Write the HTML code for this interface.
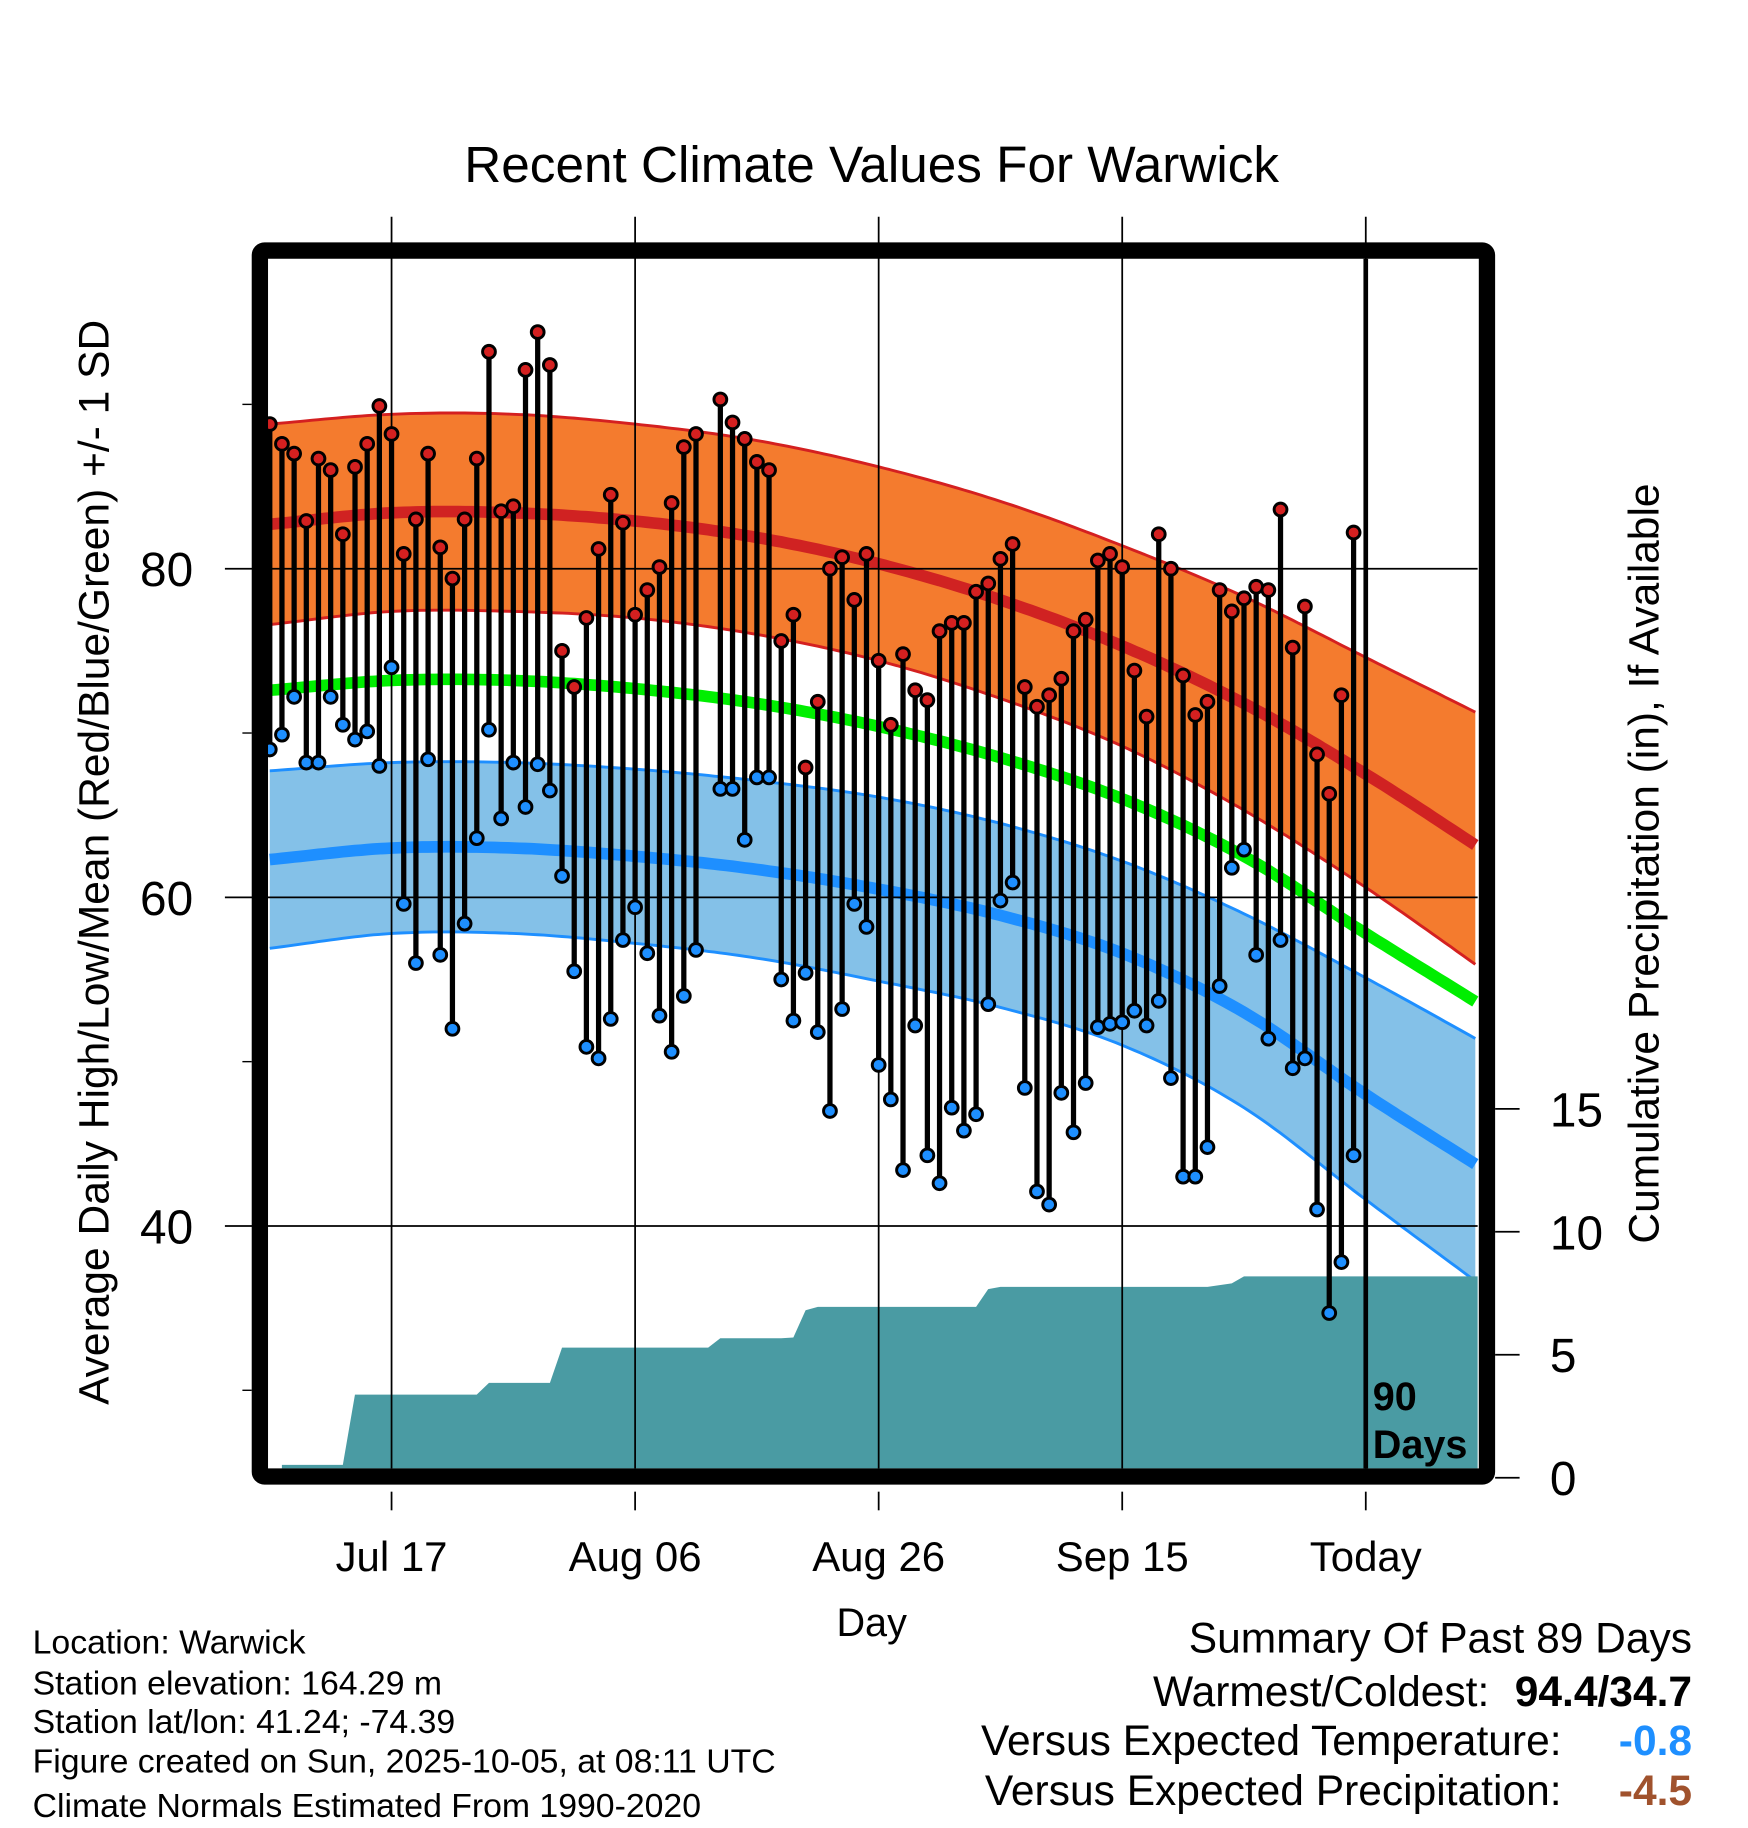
<!DOCTYPE html>
<html><head><meta charset="utf-8"><style>
html,body{margin:0;padding:0;background:#fff;}
svg{display:block;font-family:"Liberation Sans",Arial,sans-serif;}
</style></head><body>
<svg id="chart" width="1748" height="1828" viewBox="0 0 1500 1568.6" preserveAspectRatio="none" xmlns="http://www.w3.org/2000/svg">
<text x="748" y="156" font-size="44" text-anchor="middle">Recent Climate Values For Warwick</text>
<g id="bands"></g>
<g id="precip"></g>
<g id="grid"></g>
<g id="stems"></g>
<g id="axes"></g>
<text transform="translate(93,740) rotate(-90)" font-size="36.5" text-anchor="middle">Average Daily High/Low/Mean (Red/Blue/Green) +/- 1 SD</text>
<text transform="translate(1423,741) rotate(-90)" font-size="36.5" text-anchor="middle">Cumulative Precipitation (in), If Available</text>
<text x="748" y="1404" font-size="34" text-anchor="middle">Day</text>
<text x="1178" y="1210" font-size="34" font-weight="bold">90</text>
<text x="1178" y="1251" font-size="34" font-weight="bold">Days</text>
<g font-size="29">
<text x="28" y="1419">Location: Warwick</text>
<text x="28" y="1454">Station elevation: 164.29 m</text>
<text x="28" y="1487">Station lat/lon: 41.24; -74.39</text>
<text x="28" y="1521">Figure created on Sun, 2025-10-05, at 08:11 UTC</text>
<text x="28" y="1559">Climate Normals Estimated From 1990-2020</text>
</g>
<g font-size="36.5">
<text x="1452" y="1418" text-anchor="end">Summary Of Past 89 Days</text>
<text x="1278" y="1464" text-anchor="end">Warmest/Coldest:</text>
<text x="1452" y="1464" text-anchor="end" font-weight="bold">94.4/34.7</text>
<text x="1340" y="1506" text-anchor="end">Versus Expected Temperature:</text>
<text x="1452" y="1506" text-anchor="end" font-weight="bold" fill="#1e8fff">-0.8</text>
<text x="1340" y="1549" text-anchor="end">Versus Expected Precipitation:</text>
<text x="1452" y="1549" text-anchor="end" font-weight="bold" fill="#a0522d">-4.5</text>
</g>
</svg>
<script>
// Normals every 10 days (index 0..100)
const normDays = [0,10,20,30,40,50,60,70,80,90,100];
const hiUpper = [88.8,89.4,89.4,88.8,87.8,86.2,84.1,81.4,78.3,74.6,70.9];
const hiMean  = [82.7,83.4,83.4,82.9,81.9,80.3,78.1,75.3,71.8,67.5,62.7];
const hiLower = [76.6,77.4,77.4,77.0,76.0,74.4,72.1,69.2,65.3,60.6,55.4];
const avgMean = [72.6,73.2,73.2,72.7,71.8,70.4,68.5,66.0,62.5,57.8,53.2];
const loUpper = [67.7,68.2,68.2,67.8,67.1,66.1,64.5,62.2,59.0,55.1,51.0];
const loMean  = [62.3,63.0,63.0,62.5,61.7,60.5,58.9,56.6,53.0,48.0,43.3];
const loLower = [56.9,57.8,57.8,57.2,56.3,54.9,53.3,51.0,47.2,41.6,36.1];
// Daily observations (index 0 = Jul 07); null = missing
const highs = [88.8,87.6,87.0,82.9,86.7,86.0,82.1,86.2,87.6,89.9,88.2,80.9,83.0,87.0,81.3,79.4,83.0,86.7,93.2,83.5,83.8,92.1,94.4,92.4,75.0,72.8,77.0,81.2,84.5,82.8,77.2,78.7,80.1,84.0,87.4,88.2,null,90.3,88.9,87.9,86.5,86.0,75.6,77.2,67.9,71.9,80.0,80.7,78.1,80.9,74.4,70.5,74.8,72.6,72.0,76.2,76.7,76.7,78.6,79.1,80.6,81.5,72.8,71.6,72.3,73.3,76.2,76.9,80.5,80.9,80.1,73.8,71.0,82.1,80.0,73.5,71.1,71.9,78.7,77.4,78.2,78.9,78.7,83.6,75.2,77.7,68.7,66.3,72.3,82.2];
const lows = [69.0,69.9,72.2,68.2,68.2,72.2,70.5,69.6,70.1,68.0,74.0,59.6,56.0,68.4,56.5,52.0,58.4,63.6,70.2,64.8,68.2,65.5,68.1,66.5,61.3,55.5,50.9,50.2,52.6,57.4,59.4,56.6,52.8,50.6,54.0,56.8,null,66.6,66.6,63.5,67.3,67.3,55.0,52.5,55.4,51.8,47.0,53.2,59.6,58.2,49.8,47.7,43.4,52.2,44.3,42.6,47.2,45.8,46.8,53.5,59.8,60.9,48.4,42.1,41.3,48.1,45.7,48.7,52.1,52.3,52.4,53.1,52.2,53.7,49.0,43.0,43.0,44.8,54.6,61.8,62.9,56.5,51.4,57.4,49.6,50.2,41.0,34.7,37.8,44.3];
const precip = [0.52,0.52,0.52,0.52,0.52,0.52,0.52,3.38,3.38,3.38,3.38,3.38,3.38,3.38,3.38,3.38,3.38,3.38,3.86,3.86,3.86,3.86,3.86,3.86,5.29,5.29,5.29,5.29,5.29,5.29,5.29,5.29,5.29,5.29,5.29,5.29,5.29,5.67,5.67,5.67,5.67,5.67,5.67,5.70,6.81,6.95,6.95,6.95,6.95,6.95,6.95,6.95,6.95,6.95,6.95,6.95,6.95,6.95,6.95,7.67,7.76,7.76,7.76,7.76,7.76,7.76,7.76,7.76,7.76,7.76,7.76,7.76,7.76,7.76,7.76,7.76,7.76,7.76,7.83,7.90,8.19,8.19,8.19,8.19,8.19,8.19,8.19,8.19,8.19,8.19];
const yTicks = [40,60,80];
const yMinor = [30,50,70,90];
const y2Ticks = [0,5,10,15];
const xTickDays = [10,30,50,70,90];
const xTickLabels = ["Jul 17","Aug 06","Aug 26","Sep 15","Today"];

const NS="http://www.w3.org/2000/svg";
const L=230,R=1268,T=222,B=1260;
const xS=d=>231.5+10.45*d;
const yS=t=>488-(t-80)*14.1;
const yP=p=>1268-p*21.1;
const dEnd=(R-231.5)/10.45;
function mk(tag,attrs,parent){const e=document.createElementNS(NS,tag);for(const k in attrs)e.setAttribute(k,attrs[k]);parent.appendChild(e);return e;}
function curvePts(arr){const pts=[];for(let d=0;d<=dEnd+0.001;d+=0.5){
  let k=Math.min(Math.floor(d/10),normDays.length-2);const u=(d-normDays[k])/10;
  const p0=k>0?arr[k-1]:2*arr[0]-arr[1],p1=arr[k],p2=arr[k+1],p3=k+2<arr.length?arr[k+2]:2*arr[k+1]-arr[k];
  const v=0.5*((2*p1)+(-p0+p2)*u+(2*p0-5*p1+4*p2-p3)*u*u+(-p0+3*p1-3*p2+p3)*u*u*u);
  pts.push([Math.max(L,xS(d)),yS(v)]);}return pts;}
function pstr(p){return p.map(q=>q[0].toFixed(1)+","+q[1].toFixed(1)).join(" ");}
const bands=document.getElementById('bands');
function band(up,lo,fill,edge,name){
  const a=curvePts(up),b=curvePts(lo).reverse();
  const e=mk('polygon',{points:pstr(a.concat(b)),fill:fill},bands);
  
  
  const e1=mk('polyline',{points:pstr(a),fill:'none',stroke:edge,'stroke-width':2.5},bands);
  
  
  const e2=mk('polyline',{points:pstr(curvePts(lo)),fill:'none',stroke:edge,'stroke-width':2.5},bands);
  
  
}
function line(arr,col,name){const e=mk('polyline',{points:pstr(curvePts(arr)),fill:'none',stroke:col,'stroke-width':10},bands);
  
  }
band(hiUpper,hiLower,'#f47b2e','#d42020','high-band');
band(loUpper,loLower,'#84c1e8','#1e8fff','low-band');
line(hiMean,'#d02222','high-mean-line');
line(avgMean,'#00ee00','mean-line');
line(loMean,'#1e8fff','low-mean-line');

// precipitation
const pg=document.getElementById('precip');
let pp=[[xS(1),B]];
for(let i=1;i<precip.length;i++)pp.push([xS(i),yP(precip[i])]);
pp.push([R,yP(precip[precip.length-1])]);pp.push([R,B]);
const pe=mk('polygon',{points:pstr(pp),fill:'#4a9ba3'},pg);



// grid
const g=document.getElementById('grid');
yTicks.forEach(t=>{const e=mk('line',{x1:193,x2:R,y1:yS(t),y2:yS(t),stroke:'#000','stroke-width':1.5},g);
  
  
  const tx=mk('text',{x:143,y:yS(t)+15,'font-size':41,'text-anchor':'middle'},g);tx.textContent=t;
  
  });
yMinor.forEach(t=>{const e=mk('line',{x1:208,x2:216,y1:yS(t),y2:yS(t),stroke:'#000','stroke-width':1.2},g);
  
  });
xTickDays.forEach((d,i)=>{const x=xS(d);
  const e=mk('line',{x1:x,x2:x,y1:186,y2:B,stroke:'#000','stroke-width':1.5},g);
  
  
  const t2=mk('line',{x1:x,x2:x,y1:1280,y2:1296,stroke:'#000','stroke-width':1.5},g);
  
  
  const tx=mk('text',{x:x,y:1348,'font-size':36,'text-anchor':'middle'},g);tx.textContent=xTickLabels[i];
  
  });
y2Ticks.forEach(p=>{const e=mk('line',{x1:1283,x2:1304,y1:yP(p),y2:yP(p),stroke:'#000','stroke-width':1.5},g);
  
  
  const tx=mk('text',{x:1330,y:yP(p)+15,'font-size':41},g);tx.textContent=p;
  
  });

// stems
const sg=document.getElementById('stems');
highs.forEach((h,i)=>{if(h==null)return;const x=xS(i);
  const s=mk('line',{x1:x,x2:x,y1:yS(h),y2:yS(lows[i]),stroke:'#000','stroke-width':4.5},sg);
  
  });
highs.forEach((h,i)=>{if(h==null)return;const x=xS(i);
  const c1=mk('circle',{cx:x,cy:yS(h),r:5.5,fill:'#d42020',stroke:'#000','stroke-width':2.5},sg);
  
  
  const c2=mk('circle',{cx:x,cy:yS(lows[i]),r:5.5,fill:'#1e8fff',stroke:'#000','stroke-width':2.5},sg);
  
  });

// axes frame + today line
const ax=document.getElementById('axes');
const tl=mk('line',{x1:xS(90),x2:xS(90),y1:T,y2:B,stroke:'#000','stroke-width':4},ax);


const fr=mk('rect',{x:223,y:215,width:1053,height:1052,rx:4,fill:'none',stroke:'#000','stroke-width':14},ax);


</script>
</body></html>
